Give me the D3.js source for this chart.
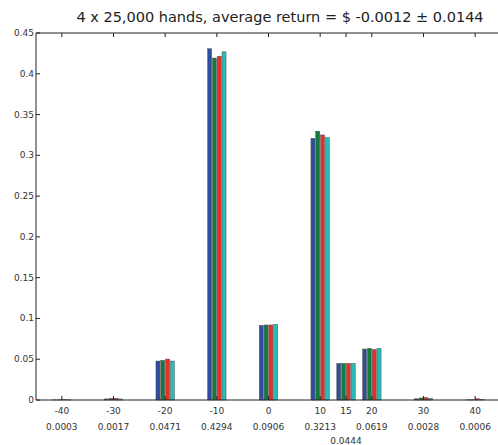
<!DOCTYPE html>
<html>
<head>
<meta charset="utf-8">
<script src="https://cdn.jsdelivr.net/npm/d3@7"></script>
<style>
  body { margin: 0; background: #fff; }
  text { font-family: "DejaVu Sans", sans-serif; fill: #333; }
</style>
</head>
<body>
<div id="chart"></div>
<script>
// hand outcomes (dollars) and the averaged share printed under each tick
const outcomes = [-40, -30, -20, -10, 0, 10, 15, 20, 30, 40];
const averages = ["0.0003", "0.0017", "0.0471", "0.4294", "0.0906", "0.3213", "0.0444", "0.0619", "0.0028", "0.0006"];

// one array per run of 25,000 hands
const run1 = [0.0002, 0.0013, 0.0478, 0.4307, 0.0916, 0.3208, 0.0449, 0.0625, 0.0015, 0.0002];
const run2 = [0.0003, 0.0020, 0.0486, 0.4193, 0.0920, 0.3296, 0.0449, 0.0633, 0.0025, 0.0003];
const run3 = [0.0004, 0.0022, 0.0502, 0.4214, 0.0920, 0.3250, 0.0449, 0.0620, 0.0030, 0.0015];
const run4 = [0.0003, 0.0013, 0.0478, 0.4270, 0.0928, 0.3218, 0.0449, 0.0633, 0.0020, 0.0004];
const runs = [run1, run2, run3, run4];
const colors = ["#2f4d9e", "#127a40", "#e5302a", "#26bdb6"];

const yTicks = [0, 0.05, 0.1, 0.15, 0.2, 0.25, 0.3, 0.35, 0.4, 0.45];

const W = 498, H = 445;
const margin = {top: 33, left: 36, bottom: 45};

const svg = d3.select("#chart").append("svg")
  .attr("width", W).attr("height", H);

// x domain goes past the window on the right, like the original
const x = d3.scaleLinear().domain([-45, 45]).range([margin.left, 501]);
const y = d3.scaleLinear().domain([0, 0.45]).range([H - margin.bottom, margin.top]);

// title
svg.append("text")
  .attr("x", 280).attr("y", 22)
  .attr("text-anchor", "middle")
  .style("font-size", "14.5px")
  .style("fill", "#222")
  .text("4 x 25,000 hands, average return = $ -0.0012 \u00b1 0.0144");

// bars, four per outcome
const step = 0.93, barW = 0.78;
runs.forEach((vals, i) => {
  svg.append("g").selectAll("rect")
    .data(vals.map((v, j) => ({o: outcomes[j], v: v})))
    .join("rect")
    .attr("x", d => x(d.o + (i - 1.5) * step - barW / 2))
    .attr("width", x(barW) - x(0))
    .attr("y", d => y(d.v))
    .attr("height", d => y(0) - y(d.v))
    .attr("fill", colors[i])
    .attr("stroke", "#555")
    .attr("stroke-width", 0.5);
});

// box and inward ticks
const frame = svg.append("g").attr("stroke", "#222").attr("fill", "none");
frame.append("line").attr("x1", x(-45)).attr("x2", x(45)).attr("y1", y(0.45)).attr("y2", y(0.45));
frame.append("line").attr("x1", x(-45)).attr("x2", x(45)).attr("y1", y(0)).attr("y2", y(0));
frame.append("line").attr("x1", x(-45)).attr("x2", x(-45)).attr("y1", y(0)).attr("y2", y(0.45));

outcomes.forEach(o => {
  frame.append("line").attr("x1", x(o)).attr("x2", x(o)).attr("y1", y(0)).attr("y2", y(0) - 4);
  frame.append("line").attr("x1", x(o)).attr("x2", x(o)).attr("y1", y(0.45)).attr("y2", y(0.45) + 4);
});
yTicks.forEach(t => {
  frame.append("line").attr("x1", x(-45)).attr("x2", x(-45) + 4).attr("y1", y(t)).attr("y2", y(t));
});

// tick labels
svg.append("g").selectAll("text")
  .data(yTicks)
  .join("text")
  .attr("x", x(-45) - 2)
  .attr("y", d => y(d) + 3)
  .attr("text-anchor", "end")
  .style("font-size", "9px")
  .text(d => d === 0 ? "0" : String(d));

svg.append("g").selectAll("text")
  .data(outcomes)
  .join("text")
  .attr("x", d => x(d))
  .attr("y", 414)
  .attr("text-anchor", "middle")
  .style("font-size", "9px")
  .text(d => d);

svg.append("g").selectAll("text")
  .data(averages)
  .join("text")
  .attr("x", (d, i) => x(outcomes[i]))
  .attr("y", (d, i) => outcomes[i] === 15 ? 444 : 430)
  .attr("text-anchor", "middle")
  .style("font-size", "9px")
  .text(d => d);
</script>
</body>
</html>
